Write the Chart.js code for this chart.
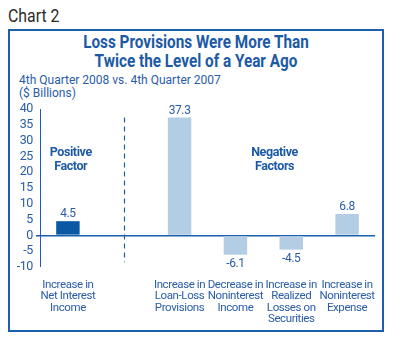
<!DOCTYPE html>
<html>
<head>
<meta charset="utf-8">
<script src="https://cdn.jsdelivr.net/npm/chart.js@4/dist/chart.umd.min.js"></script>
<style>
  body { margin: 0; background: #fff; }
  #wrap { position: relative; width: 400px; height: 340px; font-family: Roboto, "Liberation Sans", sans-serif; }
  #wrap canvas { position: absolute; left: 0; top: 0; }
  .hd { position: absolute; font-size: 18px; color: #2b2b2b; left: 8px; top: 5px; transform: scaleX(0.88); transform-origin: left; }
  .box { position: absolute; left: 8px; top: 29px; width: 372px; height: 299px; border: 2px solid #1b5fae; }
  .title { position: absolute; left: 8px; width: 376px; top: 32px; text-align: center; font-weight: bold; font-size: 18px; line-height: 19px; color: #1c5aa6; transform: scaleX(0.85); }
  .sub { position: absolute; left: 19px; top: 74px; font-size: 12.5px; line-height: 12.5px; color: #2a5ca8; transform: scaleX(0.96); transform-origin: left; }
</style>
</head>
<body>
<div id="wrap">
  <div class="hd">Chart 2</div>
  <div class="box"></div>
  <div class="title">Loss Provisions Were More Than<br>Twice the Level of a Year Ago</div>
  <div class="sub">4th Quarter 2008 vs. 4th Quarter 2007<br>($ Billions)</div>
  <canvas id="c" width="400" height="340"></canvas>
</div>
<script>
const categories = [
  ['Increase in', 'Net Interest', 'Income'],
  '',
  ['Increase in', 'Loan-Loss', 'Provisions'],
  ['Decrease in', 'Noninterest', 'Income'],
  ['Increase in', 'Realized', 'Losses on', 'Securities'],
  ['Increase in', 'Noninterest', 'Expense']
];
const values = [4.5, null, 37.3, -6.1, -4.5, 6.8];
const barColors = ['#0b58a4', 'rgba(0,0,0,0)', '#b3cde4', '#b3cde4', '#b3cde4', '#b3cde4'];
const yTicks = [-10, -5, 0, 5, 10, 15, 20, 25, 30, 35, 40];
const groupNotes = [
  { lines: ['Positive', 'Factor'], at: 0.05 },
  { lines: ['Negative', 'Factors'], at: 3.7 }
];

const BLUE = '#1b5fae';
const TXT = '#2a5ca8';
const FONT = 'Roboto, "Liberation Sans", sans-serif';

// narrow the canvas lettering a little (the original uses a condensed face)
const narrow = {
  id: 'narrow',
  beforeDraw(chart) { chart.ctx.letterSpacing = '-0.4px'; }
};

const extras = {
  id: 'extras',
  afterDatasetsDraw(chart) {
    const { ctx, scales: { x, y } } = chart;
    ctx.save();
    // divider between positive and negative factors
    ctx.strokeStyle = BLUE;
    ctx.lineWidth = 1.2;
    ctx.setLineDash([5, 4]);
    const dx = Math.round(x.getPixelForValue(1)) + 0.5;
    ctx.beginPath();
    ctx.moveTo(dx, y.getPixelForValue(37.3));
    ctx.lineTo(dx, y.getPixelForValue(-8.5));
    ctx.stroke();
    ctx.setLineDash([]);

    // value labels
    ctx.fillStyle = TXT;
    ctx.font = '12px ' + FONT;
    ctx.textAlign = 'center';
    ctx.textBaseline = 'middle';
    const meta = chart.getDatasetMeta(0);
    values.forEach((v, i) => {
      if (v === null) return;
      const bar = meta.data[i];
      const py = v >= 0 ? bar.y - 7 : bar.y + 9;
      ctx.fillText(v.toFixed(1), bar.x, py);
    });

    // group notes
    ctx.font = 'bold 12.5px ' + FONT;
    ctx.fillStyle = '#1c5aa6';
    groupNotes.forEach(n => {
      const px = x.getPixelForValue(n.at);
      n.lines.forEach((t, k) => ctx.fillText(t, px, 153 + k * 14));
    });
    ctx.restore();
  }
};

new Chart(document.getElementById('c'), {
  type: 'bar',
  data: {
    labels: categories,
    datasets: [{
      data: values,
      backgroundColor: barColors,
      barPercentage: 0.42,
      categoryPercentage: 1
    }]
  },
  options: {
    responsive: false,
    animation: false,
    layout: { padding: { top: 109, right: 25, left: 0, bottom: 0 } },
    plugins: { legend: { display: false }, tooltip: { enabled: false } },
    scales: {
      x: {
        border: { display: false },
        grid: { display: false },
        ticks: {
          color: TXT,
          font: { family: FONT, size: 11.5, lineHeight: 1.0 },
          padding: 4,
          maxRotation: 0,
          autoSkip: false
        },
        afterFit: s => { s.height = 73; }
      },
      y: {
        min: -10,
        max: 40,
        afterBuildTicks: s => { s.ticks = yTicks.map(v => ({ value: v })); },
        border: { color: BLUE, width: 1 },
        grid: {
          color: c => (c.tick && c.tick.value === 0 ? BLUE : 'rgba(0,0,0,0)'),
          lineWidth: c => (c.tick && c.tick.value === 0 ? 1.5 : 0),
          tickColor: BLUE,
          tickLength: 4
        },
        ticks: { color: TXT, font: { family: FONT, size: 12.5 }, padding: 3, autoSkip: false },
        afterFit: s => { s.width = 40; }
      }
    }
  },
  plugins: [narrow, extras]
});
</script>
</body>
</html>
